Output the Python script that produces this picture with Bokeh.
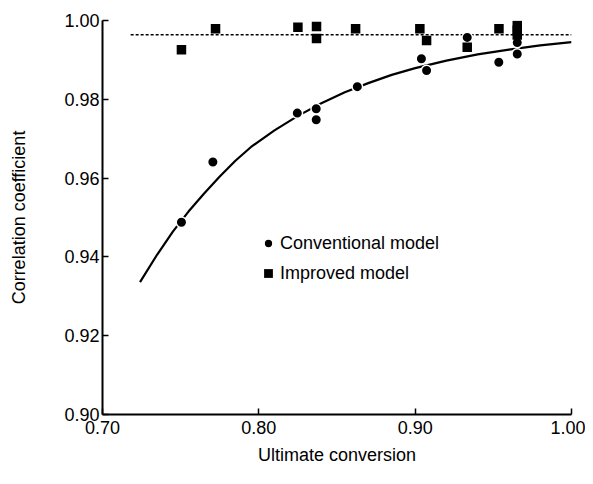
from bokeh.plotting import figure
from bokeh.models import Range1d, FixedTicker, Legend, LegendItem, CustomJSTickFormatter
from bokeh.embed import file_html
from bokeh.resources import INLINE

# Data
conv_x = [0.7505, 0.7706, 0.8246, 0.8367, 0.8367, 0.8630, 0.9040, 0.9073, 0.9333, 0.9535, 0.9653, 0.9653]
conv_y = [0.9488, 0.9641, 0.9765, 0.9776, 0.9748, 0.9832, 0.9903, 0.9873, 0.9957, 0.9894, 0.9944, 0.9915]

impr_x = [0.7505, 0.7723, 0.8250, 0.8369, 0.8369, 0.8619, 0.9030, 0.9073, 0.9333, 0.9536, 0.9653, 0.9653, 0.9653]
impr_y = [0.9926, 0.9979, 0.9983, 0.9985, 0.9954, 0.9979, 0.9979, 0.9949, 0.9932, 0.9979, 0.9987, 0.9975, 0.9963]

# Fitted curve (conventional model)
curve_x = [0.724, 0.735, 0.745, 0.755, 0.765, 0.775, 0.785, 0.795, 0.810, 0.825, 0.840,
           0.855, 0.870, 0.885, 0.900, 0.920, 0.940, 0.960, 0.980, 1.000]
curve_y = [0.9336, 0.9406, 0.9464, 0.9515, 0.9561, 0.9604, 0.9644, 0.9679, 0.9721, 0.9758, 0.9790,
           0.9818, 0.9841, 0.9862, 0.9879, 0.9898, 0.9914, 0.9926, 0.9937, 0.9945]

# Improved model level (dotted)
level_x = [0.718, 1.000]
level_y = [0.9964, 0.9964]

x_ticks = [0.70, 0.80, 0.90, 1.00]
y_ticks = [0.90, 0.92, 0.94, 0.96, 0.98, 1.00]

FONT = "Liberation Sans"
FS = "18px"

p = figure(width=585, height=476, output_backend="svg", toolbar_location=None,
           x_range=Range1d(0.70, 1.00), y_range=Range1d(0.90, 1.00),
           min_border_left=102, min_border_right=14, min_border_top=20, min_border_bottom=62)
p.outline_line_color = None
p.xgrid.visible = False
p.ygrid.visible = False
p.background_fill_color = "white"
p.border_fill_color = "white"

fmt = CustomJSTickFormatter(code="return tick.toFixed(2);")
for ax, ticks in ((p.xaxis[0], x_ticks), (p.yaxis[0], y_ticks)):
    ax.ticker = FixedTicker(ticks=ticks)
    ax.formatter = fmt
    ax.axis_line_width = 2
    ax.axis_line_color = "black"
    ax.major_tick_in = 6
    ax.major_tick_out = 0
    ax.major_tick_line_width = 1.5
    ax.minor_tick_line_color = None
    ax.major_label_text_font = FONT
    ax.major_label_text_font_size = FS
    ax.major_label_text_color = "black"
    ax.axis_label_text_font = FONT
    ax.axis_label_text_font_size = FS
    ax.axis_label_text_font_style = "normal"
    ax.axis_label_text_color = "black"

p.xaxis.axis_label = "Ultimate conversion"
p.yaxis.axis_label = "Correlation coefficient"
p.xaxis.major_label_standoff = 6
p.yaxis.major_label_standoff = 3
p.xaxis.axis_label_standoff = 8
p.yaxis.axis_label_standoff = 32

p.line(curve_x, curve_y, line_color="black", line_width=2.2)
p.line(level_x, level_y, line_color="black", line_width=1.6, line_dash="3 2")

r_conv = p.scatter(conv_x, conv_y, marker="circle", size=10.5, fill_color="black",
                   line_color="white", line_width=1.5)
r_impr = p.scatter(impr_x, impr_y, marker="square", size=9.5, fill_color="black",
                   line_color="black", line_width=0)

legend = Legend(items=[LegendItem(label="Conventional model", renderers=[r_conv]),
                       LegendItem(label="Improved model", renderers=[r_impr])],
                location=(155, 130), orientation="vertical",
                glyph_width=22, glyph_height=22, label_height=22, spacing=8,
                label_standoff=1, padding=0, margin=0,
                border_line_color=None, background_fill_alpha=0,
                label_text_font=FONT, label_text_font_size=FS, label_text_color="black")
p.add_layout(legend)

open("out.html", "w").write(file_html(p, INLINE))
